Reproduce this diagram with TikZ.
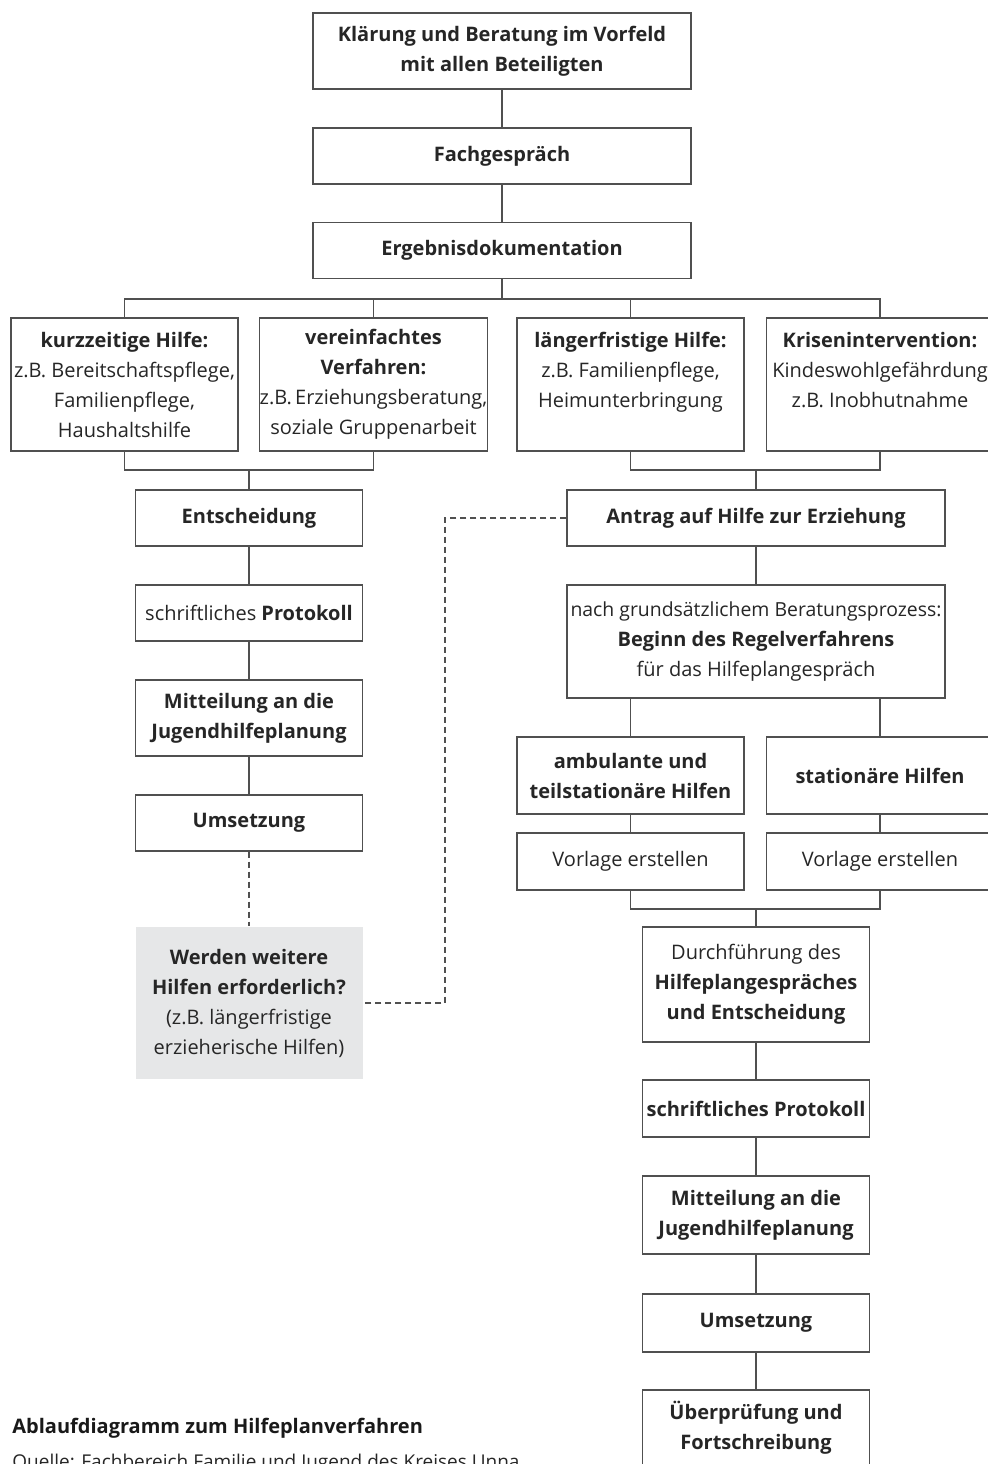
\documentclass[tikz,border=0pt]{standalone}
\usepackage{fontspec}
\setmainfont{Open Sans}
\usetikzlibrary{positioning}

\definecolor{linegray}{HTML}{505050}
\definecolor{askgray}{HTML}{E6E7E8}

\tikzset{
  stufe/.style={draw=linegray, line width=0.55pt, fill=white, align=center, inner sep=0pt,
    font=\fontsize{10}{15}\selectfont, text=black!85},
  breit/.style={stufe, minimum width=189pt},
  schmal/.style={stufe, minimum width=113.5pt},
  frage/.style={schmal, draw=none, fill=askgray},
  verbind/.style={draw=linegray, line width=0.55pt},
  rueck/.style={verbind, dash pattern=on 3pt off 2pt}
}

\begin{document}
\begin{tikzpicture}[x=0.5pt, y=-0.5pt]
          \useasboundingbox (0,0) rectangle (987,1464);
          % obere Kette
          \node[breit, minimum height=38pt] (klaer) at (502,51) {\textbf{Klärung und Beratung im Vorfeld}\\\textbf{mit allen Beteiligten}};
          \node[breit, minimum height=28pt] (fach) at (502,156) {\textbf{Fachgespräch}};
          \node[breit, minimum height=28pt] (ergeb) at (502,250.5) {\textbf{Ergebnisdokumentation}};
          % vier Hilfearten
          \node[schmal, minimum height=66.5pt] (kurz) at (124.5,384.5) {\textbf{kurzzeitige Hilfe:}\\z.B. Bereitschaftspflege,\\Familienpflege,\\Haushaltshilfe};
          \node[schmal, minimum height=66.5pt] (verein) at (373.5,384.5) {\textbf{vereinfachtes}\\\textbf{Verfahren:}\\z.B.\,Erziehungsberatung,\\soziale Gruppenarbeit};
          \node[schmal, minimum height=66.5pt] (laenger) at (630.5,384.5) {\textbf{längerfristige Hilfe:}\\z.B. Familienpflege,\\Heimunterbringung\\\mbox{}};
          \node[schmal, minimum height=66.5pt] (krise) at (880,384.5) {\textbf{Krisenintervention:}\\Kindeswohlgefährdung\\z.B. Inobhutnahme\\\mbox{}};
          % linker Zweig
          \node[schmal, minimum height=28pt] (entsch) at (249,518) {\textbf{Entscheidung}};
          \node[schmal, minimum height=28pt] (protL) at (249,613) {schriftliches \textbf{Protokoll}};
          \node[schmal, minimum height=38pt] (mittL) at (249,718) {\textbf{Mitteilung an die}\\\textbf{Jugendhilfeplanung}};
          \node[schmal, minimum height=28pt] (umsL) at (249,823) {\textbf{Umsetzung}};
          \node[frage, minimum height=76pt] (werden) at (249,1003) {\textbf{Werden weitere}\\\textbf{Hilfen erforderlich?}\\(z.B. längerfristige\\erzieherische Hilfen)};
          % rechter Zweig
          \node[breit, minimum height=28pt] (antrag) at (756,518) {\textbf{Antrag auf Hilfe zur Erziehung}};
          \node[breit, minimum height=56.5pt] (nach) at (756,641.5) {{\fontsize{9.7}{15}\selectfont nach grundsätzlichem Beratungsprozess:}\\\textbf{Beginn des Regelverfahrens}\\für das Hilfeplangespräch};
          \node[schmal, minimum height=38.5pt] (amb) at (630.5,775.5) {\textbf{ambulante und}\\\textbf{teilstationäre Hilfen}};
          \node[schmal, minimum height=38.5pt] (stat) at (880,775.5) {\textbf{stationäre Hilfen}};
          \node[schmal, minimum height=28.5pt] (vorlA) at (630.5,861.5) {Vorlage erstellen};
          \node[schmal, minimum height=28.5pt] (vorlS) at (880,861.5) {Vorlage erstellen};
          \node[schmal, minimum height=57.5pt] (durch) at (756,984.5) {Durchführung des\\\textbf{Hilfeplangespräches}\\\textbf{und Entscheidung}};
          \node[schmal, minimum height=28.5pt] (protR) at (756,1108.5) {\textbf{schriftliches Protokoll}};
          \node[schmal, minimum height=39pt] (mittR) at (756,1215) {\textbf{Mitteilung an die}\\\textbf{Jugendhilfeplanung}};
          \node[schmal, minimum height=29pt] (umsR) at (756,1323) {\textbf{Umsetzung}};
          \node[schmal, minimum height=38pt] (ueber) at (756,1428) {\textbf{Überprüfung und}\\\textbf{Fortschreibung}};
          % Sammelpunkte
          \coordinate (obenbar) at (502,299);
          \coordinate (linksbar) at (249,470);
          \coordinate (rechtsbar) at (756,470);
          \coordinate (vorlbar) at (756,909);
          \coordinate (rueckx) at (445,760);
          \draw[verbind] (klaer) -- (fach) (fach) -- (ergeb) (ergeb.south) -- (obenbar);
          \draw[verbind] (kurz.north) |- (obenbar) -| (krise.north);
          \draw[verbind] (verein.north) |- (obenbar) (laenger.north) |- (obenbar);
          \draw[verbind] (kurz.south) |- (linksbar) -| (verein.south) (linksbar) -- (entsch.north);
          \draw[verbind] (laenger.south) |- (rechtsbar) -| (krise.south) (rechtsbar) -- (antrag.north);
          \draw[verbind] (entsch) -- (protL) (protL) -- (mittL) (mittL) -- (umsL);
          \draw[verbind] (antrag) -- (nach);
          \draw[verbind] (amb.north) -- (amb.north |- nach.south) (stat.north) -- (stat.north |- nach.south);
          \draw[verbind] (amb) -- (vorlA) (stat) -- (vorlS);
          \draw[verbind] (vorlA.south) |- (vorlbar) -| (vorlS.south) (vorlbar) -- (durch.north);
          \draw[verbind] (durch) -- (protR) (protR) -- (mittR) (mittR) -- (umsR) (umsR) -- (ueber);
          \draw[rueck] (umsL) -- (werden);
          \draw[rueck] (antrag.west) -| (rueckx) |- (werden.east);
          % Bildunterschrift
          \node[anchor=base west, inner sep=0pt, font=\fontsize{10}{15}\selectfont\bfseries, text=black!90] (titel) at (12,1433) {Ablaufdiagramm zum Hilfeplanverfahren};
          \node[anchor=base west, inner sep=0pt, font=\fontsize{9.5}{15}\selectfont, text=black!85] (quelle) at (12,1468) {Quelle: Fachbereich Familie und Jugend des Kreises Unna};
        \end{tikzpicture}
\end{document}
